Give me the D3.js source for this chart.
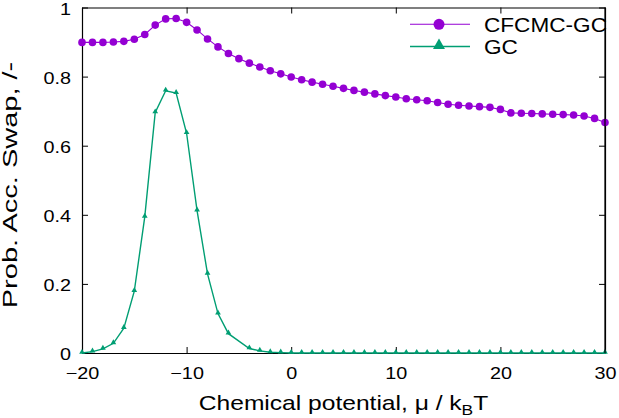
<!DOCTYPE html>
<html>
<head>
<meta charset="utf-8">
<script src="https://cdn.jsdelivr.net/npm/d3@7"></script>
<style>
  html, body { margin: 0; padding: 0; background: #fff; }
  svg { display: block; }
  text { font-family: "Liberation Sans", Arial, sans-serif; fill: #000; }
</style>
</head>
<body>
<svg id="chart" width="619" height="418"></svg>
<script>
// ---- data ----
const cfcmcX = [-20,-19,-18,-17,-16,-15,-14,-13,-12,-11,-10,-9,-8,-7,-6,-5,-4,-3,-2,-1,0,1,2,3,4,5,6,7,8,9,10,11,12,13,14,15,16,17,18,19,20,21,22,23,24,25,26,27,28,29,30];
const cfcmcY = [0.899,0.899,0.899,0.900,0.902,0.908,0.922,0.949,0.967,0.968,0.957,0.935,0.909,0.886,0.867,0.852,0.839,0.828,0.817,0.808,0.799,0.791,0.784,0.778,0.772,0.766,0.760,0.755,0.750,0.745,0.741,0.736,0.733,0.730,0.725,0.720,0.717,0.715,0.713,0.711,0.705,0.695,0.694,0.693,0.692,0.691,0.690,0.689,0.686,0.679,0.667];
const gcX = [-20,-19,-18,-17,-16,-15,-14,-13,-12,-11,-10,-9,-8,-7,-6,-4,-3,-2,-1,0,1,2,3,4,5,6,7,8,9,10,11,12,13,14,15,16,17,18,19,20,21,22,23,24,25,26,27,28,29,30];
const gcY = [0.000,0.004,0.012,0.028,0.072,0.179,0.394,0.696,0.759,0.752,0.636,0.412,0.229,0.114,0.056,0.013,0.006,0.002,0.001,0,0,0,0,0,0,0,0,0,0,0,0,0,0,0,0,0,0,0,0,0,0,0,0,0,0,0,0,0,0,0];
const xTicks = [-20,-10,0,10,20,30];
const yTicks = [0,0.2,0.4,0.6,0.8,1];
const seriesNames = ["CFCMC-GC","GC"];
const colors = ["#9400D3","#009E73"];

// ---- layout ----
const L = 82, R = 605, T = 7.5, B = 353;
const STRETCH = 1.2;
const svg = d3.select("#chart");
const x = d3.scaleLinear().domain([-20,30]).range([L,R]);
const y = d3.scaleLinear().domain([0,1]).range([B,T]);

// axes (inward ticks, mirrored)
const gx = svg.append("g").attr("transform",`translate(0,${B})`)
  .call(d3.axisBottom(x).tickValues(xTicks).tickSizeInner(-6).tickSizeOuter(0).tickPadding(14).tickFormat(d3.format("d")));
const gy = svg.append("g").attr("transform",`translate(${L},0)`)
  .call(d3.axisLeft(y).tickValues(yTicks).tickSizeInner(-6).tickSizeOuter(0).tickPadding(10).tickFormat(d => d===0||d===1 ? String(d) : d3.format(".1f")(d)));
const gt = svg.append("g").attr("transform",`translate(0,${T})`)
  .call(d3.axisTop(x).tickValues(xTicks).tickSizeInner(-6).tickSizeOuter(0).tickFormat(""));
const gr = svg.append("g").attr("transform",`translate(${R},0)`)
  .call(d3.axisRight(y).tickValues(yTicks).tickSizeInner(-6).tickSizeOuter(0).tickFormat(""));

[gx,gy,gt,gr].forEach(g => {
  g.select(".domain").attr("stroke","#000").attr("stroke-width",1.2);
  g.selectAll(".tick line").attr("stroke","#000").attr("stroke-width",1);
  g.selectAll(".tick text").attr("font-family","Liberation Sans, Arial, sans-serif").attr("font-size",16.5).attr("fill","#000");
});
gx.selectAll(".tick text").attr("dy","0.71em").attr("y",14).attr("transform",`scale(${STRETCH},1)`);
gy.selectAll(".tick text").attr("x",-11/STRETCH).attr("dy","0.42em").attr("transform",`scale(${STRETCH},1)`);

// lines
const line = d3.line().x(d => x(d[0])).y(d => y(d[1]));
const cf = cfcmcX.map((v,i) => [v, cfcmcY[i]]);
const gc = gcX.map((v,i) => [v, gcY[i]]);

svg.append("path").datum(cf).attr("d",line).attr("fill","none").attr("stroke",colors[0]).attr("stroke-width",1.1);
svg.append("g").selectAll("circle").data(cf).join("circle")
  .attr("cx",d=>x(d[0])).attr("cy",d=>y(d[1])).attr("r",3.8).attr("fill",colors[0]);

svg.append("path").datum(gc).attr("d",line).attr("fill","none").attr("stroke",colors[1]).attr("stroke-width",1.4);
const triSmall = d3.symbol().type(d3.symbolTriangle).size(14);
svg.append("g").selectAll("path").data(gc).join("path")
  .attr("d",triSmall).attr("transform",d=>`translate(${x(d[0])},${y(d[1])-0.8})`).attr("fill",colors[1]);

// legend
const legY = [24.3, 46.5];
const leg = svg.append("g");
seriesNames.forEach((name,i) => {
  leg.append("line").attr("x1",410).attr("x2",470).attr("y1",legY[i]).attr("y2",legY[i])
    .attr("stroke",colors[i]).attr("stroke-width",i===0?1.1:1.4);
  if (i===0) {
    leg.append("circle").attr("cx",439).attr("cy",legY[i]).attr("r",5.5).attr("fill",colors[i]);
  } else {
    leg.append("path").attr("d",d3.symbol().type(d3.symbolTriangle).size(62)).attr("transform",`translate(439,${legY[i]-1})`).attr("fill",colors[i]);
  }
  leg.append("text").attr("transform",`translate(484,${legY[i]+7.2}) scale(1.13,1)`)
    .attr("font-size",20).text(name);
});

// redraw frame on top (legend text overlaps right border)
svg.append("line").attr("x1",R).attr("x2",R).attr("y1",T).attr("y2",B).attr("stroke","#000").attr("stroke-width",1.2);

// axis titles
const xt = svg.append("text").attr("transform",`translate(${(L+R)/2},410) scale(1.2,1)`)
  .attr("text-anchor","middle").attr("font-size",20.5);
xt.append("tspan").text("Chemical potential, μ / k");
xt.append("tspan").attr("font-size",14.5).attr("dy",5).text("B");
xt.append("tspan").attr("dy",-5).text("T");

svg.append("text").attr("transform",`translate(17,185) rotate(-90) scale(1.45,1)`)
  .attr("text-anchor","middle").attr("font-size",20).text("Prob. Acc. Swap, /-");
</script>
</body>
</html>
